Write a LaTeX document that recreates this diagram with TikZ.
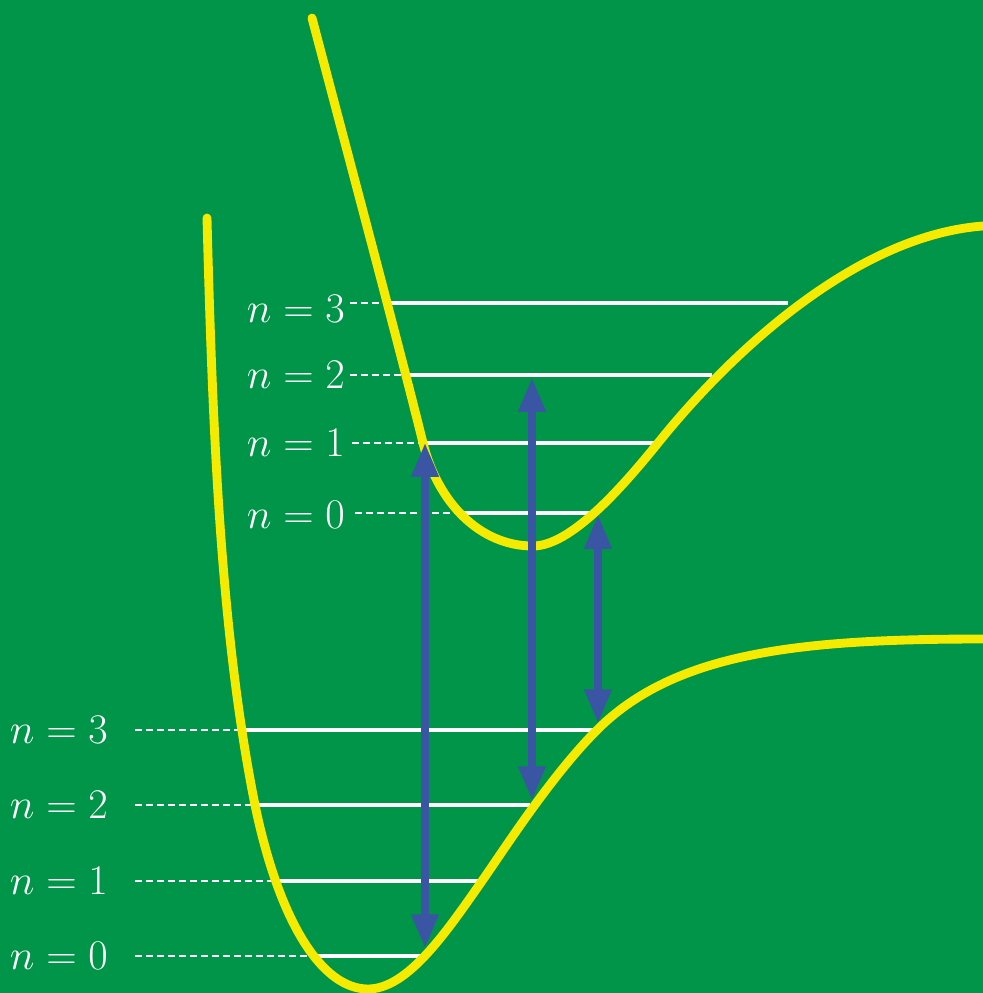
\documentclass[tikz,border=0pt]{standalone}
\usepackage{fix-cm}
\usetikzlibrary{arrows.meta}
\definecolor{bggreen}{RGB}{0,149,72}
\definecolor{curveyellow}{RGB}{245,235,0}
\definecolor{arrowblue}{RGB}{58,85,164}
\begin{document}
\begin{tikzpicture}[x=0.025cm,y=-0.025cm,>={Triangle[length=24pt,width=18.5pt]},
        curve/.style={curveyellow,line width=6.3pt,line cap=round},
        level/.style={white,line width=2.6pt},
        guide/.style={white,line width=1.4pt,dash pattern=on 5pt off 2.8pt},
        trans/.style={<->,arrowblue,line width=5pt},
        lbl/.style={white,anchor=east,inner sep=0pt,font=\fontsize{30}{36}\selectfont}]
        \fill[bggreen] (0,0) rectangle (983,993);
        \useasboundingbox (0,0) rectangle (983,993);
        % levels of the lower state
        \foreach \n/\y/\xa/\xb in {3/730/242/597,2/805/255/530,1/881/273/482,0/956/313/425} {
            \node[lbl] (low\n) at (108,\y) {$n=\n$};
            \draw[guide] (135,\y) -- (\xa,\y);
            \draw[level] (\xa,\y) -- (\xb,\y);
        }
        % levels of the upper state
        \foreach \n/\y/\ly/\xd/\xa/\xb in {3/303/309/350/387/788,2/375/375/350/406/712,1/443/443/352/423/658,0/513/515/355/460/598} {
            \node[lbl] (up\n) at (345,\ly) {$n=\n$};
            \draw[guide] (\xd,\y) -- (\xa,\y);
            \draw[level] (\xa,\y) -- (\xb,\y);
        }
        % potential curves
        \draw[curve] (207,218) .. controls (213,450) and (222,640) .. (255,805)
            .. controls (280,925) and (323,989) .. (368,989)
            .. controls (408,989) and (447,931) .. (482,881)
            .. controls (507,845) and (552,775) .. (597,730)
            .. controls (675,652) and (800,639) .. (983,639);
        \draw[curve] (312,18) .. controls (360,200) and (400,350) .. (423,443)
            .. controls (438,503) and (480,546) .. (533,546)
            .. controls (570,546) and (620,490) .. (658,443)
            .. controls (722,363) and (850,236) .. (983,226);
        % transitions
        \coordinate (a1) at (425,443);
        \coordinate (a0) at (425,948);
        \coordinate (b1) at (532,378);
        \coordinate (b0) at (532,800);
        \coordinate (c1) at (598,515);
        \coordinate (c0) at (598,723);
        \draw[trans] (a1) -- (a0);
        \draw[trans] (b1) -- (b0);
        \draw[trans] (c1) -- (c0);
    \end{tikzpicture}
\end{document}
